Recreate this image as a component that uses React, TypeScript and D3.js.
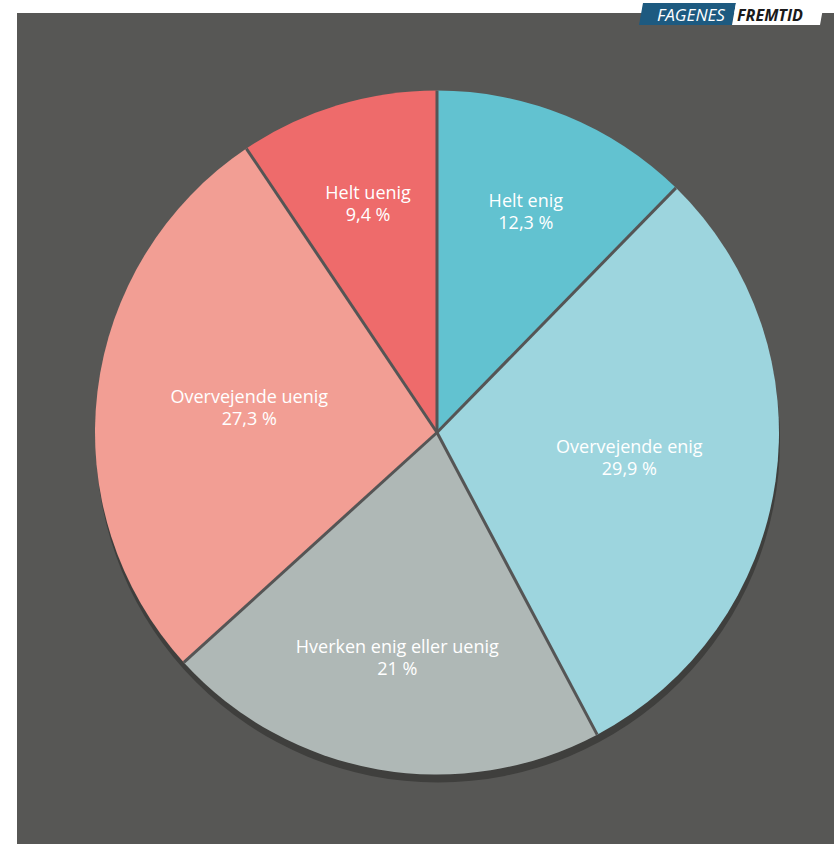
import React from "react";
import * as d3 from "d3";

const categories = ["Helt enig", "Overvejende enig", "Hverken enig eller uenig", "Overvejende uenig", "Helt uenig"];
const values = [12.3, 29.9, 21, 27.3, 9.4];
const valueLabels = ["12,3 %", "29,9 %", "21 %", "27,3 %", "9,4 %"];
const colors = ["#62c2d0", "#9dd5de", "#afb8b6", "#f29e94", "#ee6b6b"];

const W = 834, H = 844;
const cx = 437, cy = 432.5, R = 342;
const FONT = "18px 'Open Sans', sans-serif";

function measure(text: string): number {
  const c = document.createElement("canvas").getContext("2d");
  if (!c) return text.length * 9;
  c.font = FONT;
  return c.measureText(text).width;
}

export default function App() {
  const data = categories.map((c, i) => ({ name: c, value: values[i], label: valueLabels[i], color: colors[i] }));
  const pie = d3.pie<any>().sort(null).value((d: any) => d.value);
  const arcs = pie(data);
  const arc = d3.arc<any>().innerRadius(0).outerRadius(R);
  const outerEdge = R - 72;

  return (
    <svg width={W} height={H} style={{ display: "block", position: "absolute", left: 0, top: 0 }}>
      <rect x={17} y={13} width={W - 17} height={H - 13} fill="#575755" />
      {/* logo */}
      <polygon points="643,3 736,3 732,25 639,25" fill="#1d5a80" />
      <polygon points="736,3 824,3 820,25 732,25" fill="#ffffff" />
      <text x={691} y={20.5} textAnchor="middle" fill="#ffffff" fontStyle="italic" fontSize={16.5} fontFamily="'Open Sans', sans-serif" textLength={68} lengthAdjust="spacingAndGlyphs">FAGENES</text>
      <text x={770} y={20.5} textAnchor="middle" fill="#1a1a1a" fontStyle="italic" fontWeight="bold" fontSize={16} fontFamily="'Open Sans', sans-serif" textLength={66} lengthAdjust="spacingAndGlyphs">FREMTID</text>
      <circle cx={cx + 1} cy={cy + 8} r={R} fill="#3f3f3d" />
      <g transform={`translate(${cx},${cy})`}>
        {arcs.map((a, i) => (
          <path key={i} d={arc(a) || ""} fill={a.data.color} />
        ))}
        {arcs.map((a, i) => (
          <path key={"s" + i} d={`M0,0L${Math.sin(a.startAngle) * R},${-Math.cos(a.startAngle) * R}`} stroke="#555" strokeWidth={3} fill="none" />
        ))}
        {arcs.map((a, i) => {
          const mid = (a.startAngle + a.endAngle) / 2;
          const w = Math.max(measure(a.data.name), measure(a.data.label));
          const hw = w / 2, hh = 22;
          const ux = Math.sin(mid), uy = -Math.cos(mid);
          const ext = hw * Math.abs(ux) + hh * Math.abs(uy);
          const r = outerEdge - ext;
          const x = ux * r, y = uy * r - 3;
          return (
            <text key={"t" + i} x={x} y={y} textAnchor="middle" fill="#ffffff" fontSize={18} fontFamily="'Open Sans', sans-serif">
              <tspan x={x} dy={-4}>{a.data.name}</tspan>
              <tspan x={x} dy={22}>{a.data.label}</tspan>
            </text>
          );
        })}
      </g>
    </svg>
  );
}
